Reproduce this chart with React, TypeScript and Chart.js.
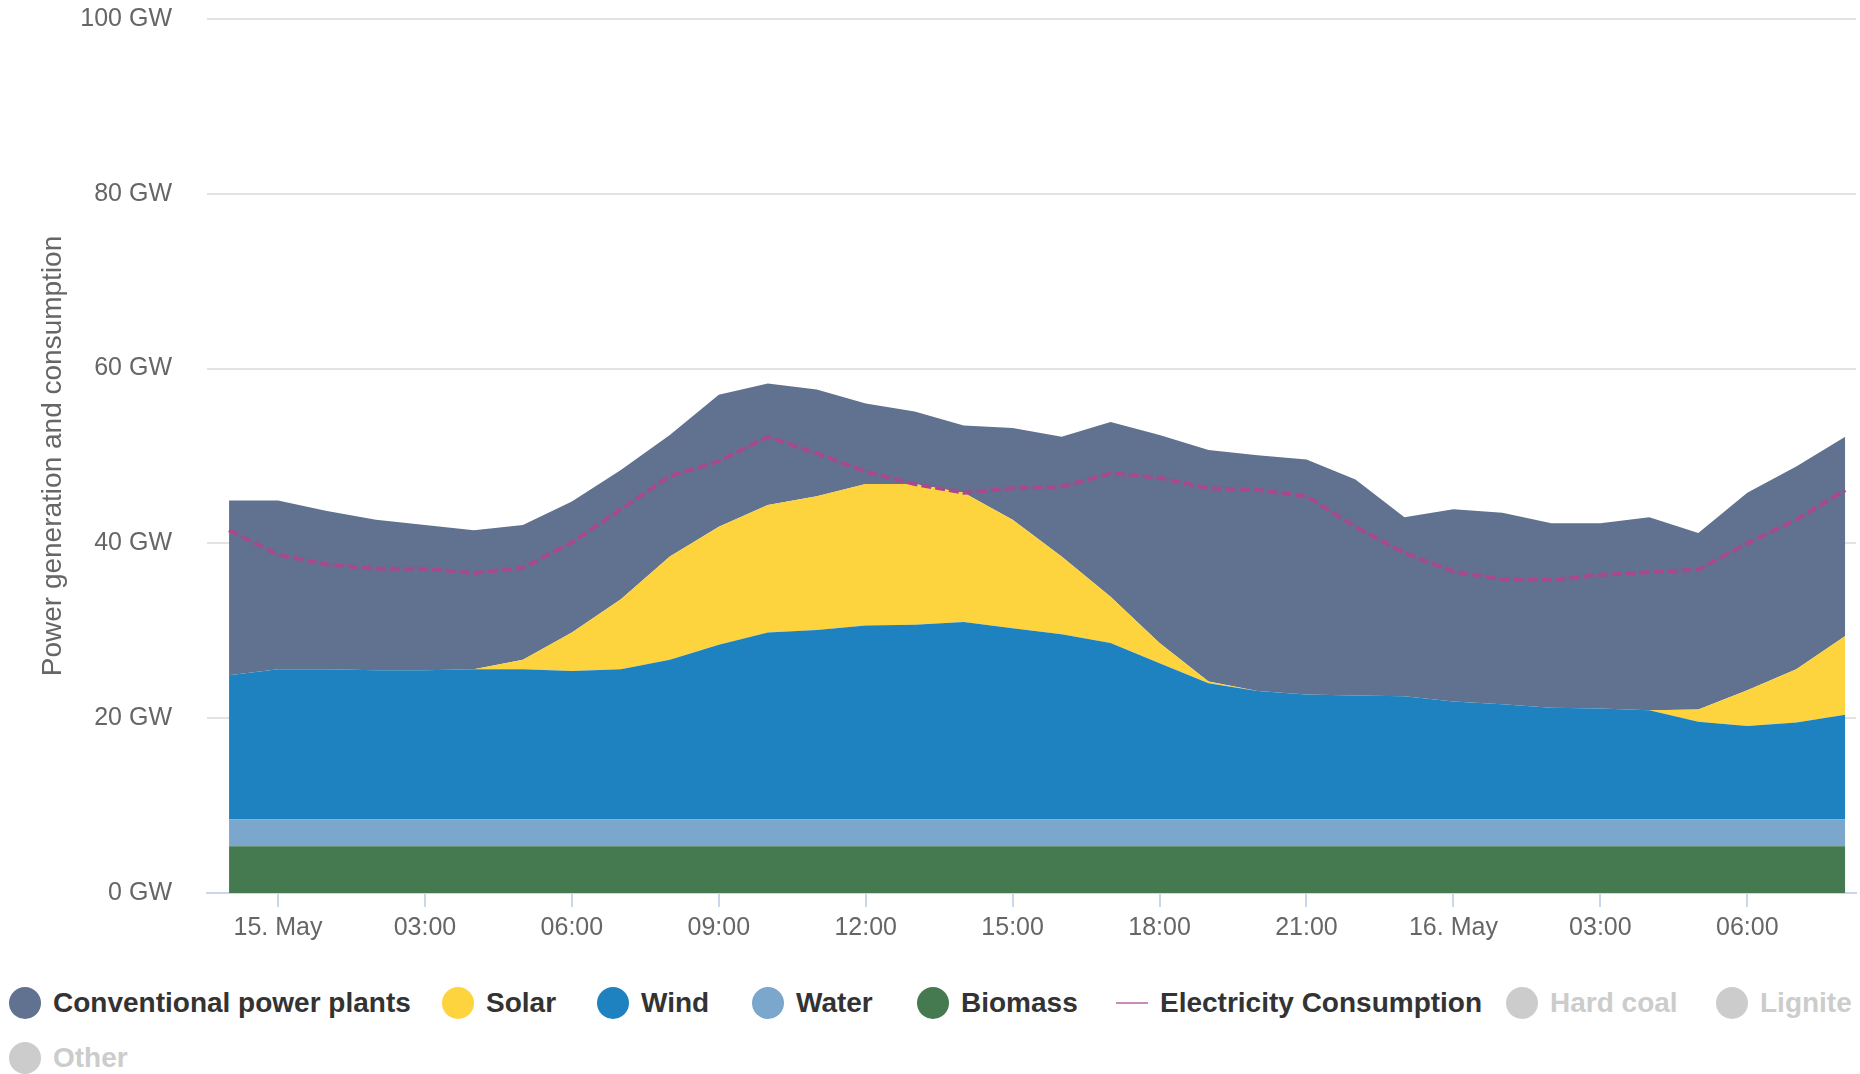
import React, { useEffect, useRef } from "react";
import { Chart, registerables } from "chart.js";

Chart.register(...registerables);

// Hours relative to 15 May 00:00 (hourly points from 14 May 23:00 to 16 May 08:00)
const hours = [-1, 0, 1, 2, 3, 4, 5, 6, 7, 8, 9, 10, 11, 12, 13, 14, 15, 16, 17, 18, 19, 20, 21, 22, 23, 24, 25, 26, 27, 28, 29, 30, 31, 32];

const biomass = [5.35, 5.35, 5.35, 5.35, 5.35, 5.35, 5.35, 5.35, 5.35, 5.35, 5.35, 5.35, 5.35, 5.35, 5.35, 5.35, 5.35, 5.35, 5.35, 5.35, 5.35, 5.35, 5.35, 5.35, 5.35, 5.35, 5.35, 5.35, 5.35, 5.35, 5.35, 5.35, 5.35, 5.35];
const water = [3.05, 3.05, 3.05, 3.05, 3.05, 3.05, 3.05, 3.05, 3.05, 3.05, 3.05, 3.05, 3.05, 3.05, 3.05, 3.05, 3.05, 3.05, 3.05, 3.05, 3.05, 3.05, 3.05, 3.05, 3.05, 3.05, 3.05, 3.05, 3.05, 3.05, 3.05, 3.05, 3.05, 3.05];
const wind = [16.5, 17.2, 17.2, 17.1, 17.1, 17.2, 17.2, 17.0, 17.2, 18.3, 20.0, 21.4, 21.7, 22.2, 22.3, 22.6, 21.9, 21.2, 20.2, 17.9, 15.6, 14.7, 14.3, 14.2, 14.1, 13.5, 13.2, 12.8, 12.7, 12.5, 11.2, 10.7, 11.1, 12.0];
const solar = [0, 0, 0, 0, 0, 0, 1.1, 4.4, 8.0, 11.8, 13.5, 14.6, 15.3, 16.2, 16.1, 14.8, 12.4, 8.9, 5.3, 2.3, 0.2, 0, 0, 0, 0, 0, 0, 0, 0, 0, 1.4, 4.1, 6.1, 9.0];
const conventional = [20.0, 19.3, 18.1, 17.2, 16.6, 15.9, 15.4, 15.0, 14.8, 13.9, 15.1, 13.9, 12.2, 9.2, 8.3, 7.7, 10.5, 13.7, 20.0, 23.8, 26.5, 27.0, 26.9, 24.7, 20.5, 22.0, 21.9, 21.1, 21.2, 22.1, 20.2, 22.6, 23.2, 22.8];
const consumption = [41.5, 38.7, 37.6, 37.1, 37.1, 36.6, 37.2, 40.1, 43.9, 47.7, 49.4, 52.2, 50.3, 48.2, 46.8, 45.8, 46.3, 46.5, 48.0, 47.5, 46.3, 46.1, 45.4, 41.9, 38.9, 36.8, 35.9, 35.8, 36.4, 36.7, 37.0, 40.0, 42.7, 46.1];

const xTickValues = [0, 3, 6, 9, 12, 15, 18, 21, 24, 27, 30];
const xTickLabels = ["15. May", "03:00", "06:00", "09:00", "12:00", "15:00", "18:00", "21:00", "16. May", "03:00", "06:00"];
const yTickValues = [0, 20, 40, 60, 80, 100];

const legendRow1 = [
  { name: "Conventional power plants", color: "#60728f", kind: "circle", active: true },
  { name: "Solar", color: "#fdd33e", kind: "circle", active: true },
  { name: "Wind", color: "#1f82c0", kind: "circle", active: true },
  { name: "Water", color: "#7aa7cb", kind: "circle", active: true },
  { name: "Biomass", color: "#457950", kind: "circle", active: true },
  { name: "Electricity Consumption", color: "#b44c94", kind: "line", active: true },
  { name: "Hard coal", color: "#cccccc", kind: "circle", active: false },
  { name: "Lignite", color: "#cccccc", kind: "circle", active: false },
];
const legendRow2 = [{ name: "Other", color: "#cccccc", kind: "circle", active: false }];
// layout: left edge of each legend symbol (px)
const legendRow1Left = [9, 442, 597, 752, 917, 1116, 1506, 1716];
const legendRow2Left = [9];

const FONT = "'Liberation Sans', Arial, Helvetica, sans-serif";

function pts(values: number[]) {
  return values.map((v, i) => ({ x: hours[i], y: v }));
}

function LegendRow({ items, lefts, top }: { items: any[]; lefts: number[]; top: number }) {
  return (
    <>
      {items.map((it, i) => (
        <div
          key={it.name}
          style={{
            position: "absolute",
            left: lefts[i],
            top,
            height: 34,
            display: "flex",
            alignItems: "center",
            whiteSpace: "nowrap",
            fontFamily: FONT,
            fontWeight: "bold",
            fontSize: 28,
          }}
        >
          {it.kind === "circle" ? (
            <span style={{ width: 32, height: 32, borderRadius: "50%", background: it.color, display: "inline-block" }} />
          ) : (
            <span style={{ width: 32, height: 32, display: "inline-flex", alignItems: "center" }}>
              <span style={{ width: 32, height: 2, background: "#c98bb8", display: "inline-block" }} />
            </span>
          )}
          <span style={{ marginLeft: 12, color: it.active ? "#333333" : "#cccccc" }}>{it.name}</span>
        </div>
      ))}
    </>
  );
}

export default function App() {
  const ref = useRef<HTMLCanvasElement | null>(null);

  useEffect(() => {
    if (!ref.current) return;
    Chart.defaults.font.family = FONT;
    const area = (label: string, data: number[], color: string, fill: any) => ({
      label,
      data: pts(data),
      backgroundColor: color,
      borderColor: "rgba(0,0,0,0)",
      borderWidth: 1,
      pointRadius: 0,
      tension: 0,
      fill,
      order: 1,
    });
    const chart = new Chart(ref.current, {
      type: "line",
      data: {
        datasets: [
          area("Biomass", biomass, "#457950", "origin"),
          area("Water", water, "#7aa7cb", "-1"),
          area("Wind", wind, "#1f82c0", "-1"),
          area("Solar", solar, "#fdd33e", "-1"),
          area("Conventional power plants", conventional, "#60728f", "-1"),
          {
            label: "Electricity Consumption",
            data: pts(consumption),
            borderColor: "#a8488f",
            backgroundColor: "#a8488f",
            borderWidth: 4,
            borderDash: [10, 4],
            pointRadius: 0,
            tension: 0,
            fill: false,
            stack: "consumption",
            order: 0,
          } as any,
        ],
      },
      options: {
        responsive: false,
        animation: false,
        layout: { padding: { top: 19, right: 4, left: 0, bottom: 0 } },
        plugins: { legend: { display: false }, tooltip: { enabled: false } },
        scales: {
          x: {
            type: "linear",
            min: -1.45,
            max: 32.22,
            afterBuildTicks: (scale: any) => {
              scale.ticks = xTickValues.map((v) => ({ value: v }));
            },
            afterFit: (scale: any) => {
              scale.height = 67;
            },
            ticks: {
              autoSkip: false,
              maxRotation: 0,
              padding: 6,
              color: "#666666",
              font: { size: 25 },
              callback: (v: any) => {
                const i = xTickValues.indexOf(Number(v));
                return i >= 0 ? xTickLabels[i] : "";
              },
            },
            grid: { drawOnChartArea: false, drawTicks: true, tickLength: 14, color: "#ccd6eb", lineWidth: 2 },
            border: { display: true, color: "#ccd6eb", width: 2 },
          },
          y: {
            stacked: true,
            min: 0,
            max: 100,
            afterBuildTicks: (scale: any) => {
              scale.ticks = yTickValues.map((v) => ({ value: v }));
            },
            afterFit: (scale: any) => {
              scale.width = 207;
            },
            ticks: {
              padding: 0,
              color: "#666666",
              font: { size: 25 },
              callback: (v: any) => `${v} GW`,
            },
            grid: { color: "#e3e3e3", lineWidth: 2, drawTicks: true, tickLength: 35, tickColor: "rgba(0,0,0,0)" },
            border: { display: false },
            title: {
              display: true,
              text: "Power generation and consumption",
              color: "#666666",
              font: { size: 28, weight: "normal" },
              padding: { top: 36, bottom: 0 },
            },
          },
        },
      },
    } as any);
    return () => chart.destroy();
  }, []);

  return (
    <div style={{ position: "fixed", left: 0, top: 0, width: 1860, height: 1074, background: "#ffffff", overflow: "hidden" }}>
      <canvas ref={ref} width={1860} height={960} style={{ position: "absolute", left: 0, top: 0, width: 1860, height: 960 }} />
      <LegendRow items={legendRow1} lefts={legendRow1Left} top={986} />
      <LegendRow items={legendRow2} lefts={legendRow2Left} top={1041} />
    </div>
  );
}
